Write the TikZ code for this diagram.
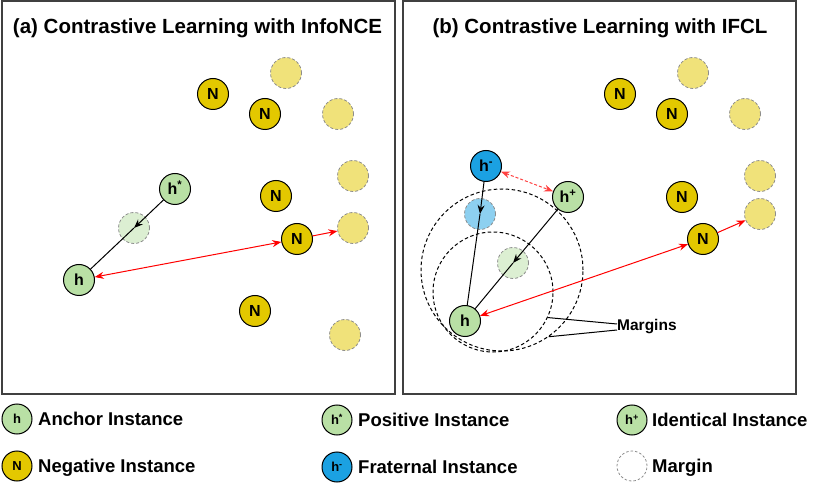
\documentclass[tikz,border=0pt]{standalone}
\usepackage{fontspec}
\setmainfont{Liberation Sans}
\usetikzlibrary{arrows.meta}
\definecolor{gfill}{HTML}{B9E0A5}
\definecolor{yfill}{HTML}{E3C800}
\definecolor{bfill}{HTML}{1BA1E2}
\definecolor{redc}{HTML}{FF0000}
\tikzset{
  inst/.style={circle, draw=black, line width=1pt, minimum size=31pt, inner sep=0pt,
    font=\fontsize{16}{16}\selectfont\bfseries, text height=11.5pt, text depth=0pt},
  anc/.style={inst, fill=gfill},
  neg/.style={inst, fill=yfill},
  fra/.style={inst, fill=bfill},
  ghost/.style={circle, draw=black!45, dash pattern=on 3pt off 2pt, line width=0.8pt, minimum size=31pt, inner sep=0pt},
  ghy/.style={ghost, fill=yfill!52},
  ghg/.style={ghost, fill=gfill!50},
  ghb/.style={ghost, fill=bfill!50},
  legn/.style={inst, minimum size=30pt, font=\fontsize{13}{13}\selectfont\bfseries, text height=9.5pt},
  legt/.style={anchor=west, inner sep=0pt, font=\fontsize{18.5}{18.5}\selectfont\bfseries, text height=13pt, text depth=0pt},
  ttl/.style={font=\fontsize{20.5}{24}\selectfont\bfseries, inner sep=0pt},
  frame/.style={draw=black!75, line width=1.3pt},
  blk/.style={draw=black, line width=1pt},
  tip/.style={},
  blkarr/.style={blk, -{Stealth[length=9pt,width=7pt,inset=3pt]}},
  redarr/.style={draw=redc, line width=1pt, -{Stealth[length=9pt,width=7pt,inset=3pt]}},
  redboth/.style={draw=redc, line width=1pt, {Stealth[length=9pt,width=7pt,inset=3pt]}-{Stealth[length=9pt,width=7pt,inset=3pt]}},
  reddash/.style={draw=redc!75, line width=1pt, dash pattern=on 3pt off 2pt, {Stealth[length=9pt,width=7pt,inset=3pt]}-{Stealth[length=9pt,width=7pt,inset=3pt]}},
  margin/.style={circle, draw=black, line width=1pt, dash pattern=on 3.5pt off 2.5pt, inner sep=0pt},
}
\begin{document}
\begin{tikzpicture}[x=1pt,y=-1pt]
\useasboundingbox (0,0) rectangle (830,486);
\fill[white] (0,0) rectangle (830,486);

% frames
\draw[frame] (2,1) rectangle (395,394);
\draw[frame] (403,1) rectangle (796,394);

% titles
\node[ttl] (ta) at (197.5,28) {(a) Contrastive Learning with InfoNCE};
\node[ttl] (tb) at (600,28) {(b) Contrastive Learning with IFCL};

% ---------- panel (a)
\node[neg] (a1) at (213,94) {N};
\node[neg] (a2) at (265,114) {N};
\node[ghy] (a3) at (286,73) {};
\node[ghy] (a4) at (338,114) {};
\node[anc] (ahs) at (175,189) {h\textsuperscript{*}};
\node[ghg] (ag) at (134,228) {};
\node[anc] (ah) at (79,280) {h};
\node[neg] (a5) at (276,196) {N};
\node[neg] (a6) at (297,239) {N};
\node[ghy] (a7) at (353,176) {};
\node[ghy] (a8) at (353,228) {};
\node[neg] (a9) at (255,311) {N};
\node[ghy] (a10) at (345,335) {};

\draw[blkarr] (ahs) -- (ag.center);
\draw[blk] (ag.center) -- (ah);
\draw[redboth] (ah) -- (a6);
\draw[redarr] (a6) -- (a8);

% ---------- panel (b)
\node[margin, minimum size=162pt] (mb) at (502,270) {};
\node[margin, minimum size=120pt] (ms) at (493,292) {};

\node[neg] (b1) at (620,94) {N};
\node[neg] (b2) at (672,114) {N};
\node[ghy] (b3) at (693,73) {};
\node[ghy] (b4) at (745,114) {};
\node[neg] (b5) at (682,197) {N};
\node[neg] (b6) at (703,239) {N};
\node[ghy] (b7) at (760,176) {};
\node[ghy] (b8) at (760,214) {};

\node[fra] (bhm) at (486,166) {h\textsuperscript{-}};
\node[anc] (bhp) at (568,197) {h\textsuperscript{+}};
\node[ghb] (bgb) at (480,214) {};
\node[ghg] (bgg) at (513,263) {};
\node[anc] (bh) at (465,321) {h};

\draw[blkarr] (bhm) -- (bgb.center);
\draw[blk] (bgb.center) -- (bh);
\draw[blkarr] (bhp) -- (bgg.center);
\draw[blk] (bgg.center) -- (bh);
\draw[reddash] (bhm) -- (bhp);
\draw[redboth] (bh) -- (b6);
\draw[redarr] (b6) -- (b8);

\node[anchor=west, inner sep=0pt, font=\fontsize{15.5}{15.5}\selectfont\bfseries] (mlbl) at (617,327) {Margins};
\draw[blk] (ms.-25) -- ([yshift=3pt]mlbl.west);
\draw[blk] (mb.-55) -- ([yshift=-3pt]mlbl.west);

% ---------- legend
\node[legn, fill=gfill] (l1) at (17,419) {h};
\node[legt] (l1t) at (38,419) {Anchor Instance};
\node[legn, fill=yfill] (l2) at (17,466) {N};
\node[legt] (l2t) at (38,466) {Negative Instance};
\node[legn, fill=gfill] (l3) at (337,420) {h\textsuperscript{*}};
\node[legt] (l3t) at (358,420) {Positive Instance};
\node[legn, fill=bfill] (l4) at (337,467) {h\textsuperscript{-}};
\node[legt] (l4t) at (358,467) {Fraternal Instance};
\node[legn, fill=gfill] (l5) at (632,420) {h\textsuperscript{+}};
\node[legt] (l5t) at (652,420) {Identical Instance};
\node[circle, draw=black!45, dash pattern=on 2.5pt off 2pt, line width=0.8pt, minimum size=30pt] (l6) at (632,466) {};
\node[legt] (l6t) at (652,466) {Margin};
\end{tikzpicture}
\end{document}
